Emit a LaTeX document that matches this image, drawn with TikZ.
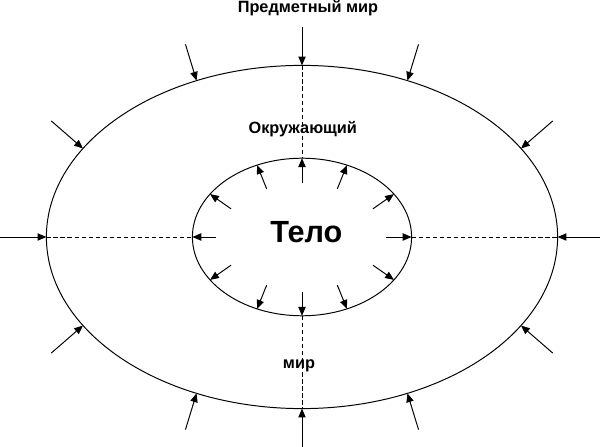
\documentclass[tikz,border=0pt]{standalone}
\usepackage{fontspec}
\setmainfont{Liberation Sans}
\usetikzlibrary{shapes.geometric,arrows.meta,calc}

\begin{document}
\begin{tikzpicture}[
    line width=0.7pt,
    push/.style={-{Triangle[length=6.3pt,width=5.2pt]}},
    guide/.style={dash pattern=on 3.2pt off 1.8pt},
    worldtext/.style={font=\bfseries\fontsize{11.6}{13}\selectfont, anchor=base, inner sep=0pt}
  ]
  \useasboundingbox (-7.55,-5.25) rectangle (7.45,5.925);
  \node[draw, ellipse, minimum width=12.78cm, minimum height=8.58cm, inner sep=0pt, outer sep=0pt] (outer) at (0,0) {};
  \node[draw, ellipse, minimum width=5.48cm, minimum height=3.94cm, inner sep=0pt, outer sep=0pt] (inner) at (0,0) {};
  % Draw the dashed axes
  \draw[guide] (outer.north) -- (inner.north);
  \draw[guide] (inner.south) -- (outer.south);
  \draw[guide] (outer.west) -- (inner.west);
  \draw[guide] (inner.east) -- (outer.east);
  % Draw the texts
  \node[worldtext] (world) at (0.15,5.61) {Предметный мир};
  \node[worldtext] (surround) at (0.02,2.575) {Окружающий};
  \node[worldtext] (mir) at (-0.075,-3.28) {мир};
  \node[font=\bfseries\fontsize{21.8}{26}\selectfont, anchor=base, inner sep=0pt] (body) at (0.11,-0.14) {Тело};
  % Draw the outer arrows
  \foreach \p/\d/\l in {90/90/0.96, 270/270/0.96, 180/180/1.16, 0/0/1.06,
      124/107/0.95, 56/73/0.95, 236/253/0.95, 304/287/0.95,
      158/139/1.05, 22/41/1.05, 202/221/1.05, 338/319/1.05}
    \draw[push] ($(outer.\p)+(\d:\l)$) -- (outer.\p);
  % Draw the inner arrows
  \foreach \p/\d/\l in {90/270/0.63, 270/90/0.6, 180/0/0.6, 0/180/0.64,
      58/248/0.64, 122/292/0.64, 238/68/0.64, 302/112/0.64,
      25/215/0.64, 155/325/0.64, 205/35/0.64, 335/145/0.64}
    \draw[push] ($(inner.\p)+(\d:\l)$) -- (inner.\p);
\end{tikzpicture}
\end{document}
